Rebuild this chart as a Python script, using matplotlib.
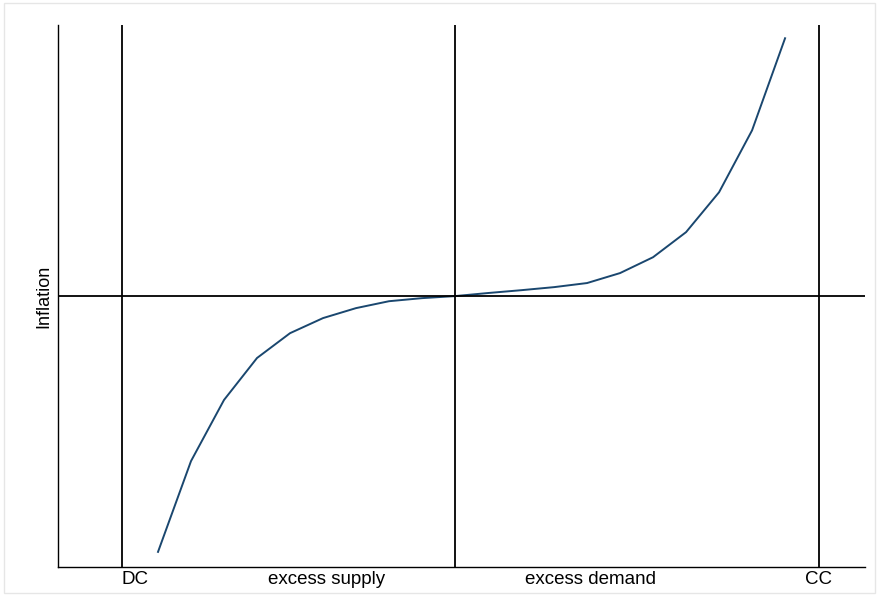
import matplotlib.pyplot as plt
from matplotlib.patches import Rectangle

# --- DATA ---
excess = [-9, -8, -7, -6, -5, -4, -3, -2, -1, 0, 1, 2, 3, 4, 5, 6, 7, 8, 9, 10]
inflation = [-10.0, -6.45, -4.06, -2.42, -1.45, -0.86, -0.47, -0.2, -0.08, 0.0,
             0.12, 0.23, 0.35, 0.51, 0.9, 1.52, 2.5, 4.06, 6.48, 10.08]
dc_pos, cc_pos = -10.09, 11.03
x_labels = [(-9.7, "DC"), (-3.9, "excess supply"), (4.1, "excess demand"), (11.0, "CC")]

# --- PLOT ---
fig = plt.figure(figsize=(8.79, 5.96), dpi=100)
fig.patches.append(Rectangle((0.004, 0.005), 0.992, 0.99, transform=fig.transFigure,
                             fill=False, edgecolor="#e6e6e6", lw=1))
ax = fig.add_axes([0.066, 0.0487, 0.918, 0.909])
ax.plot(excess, inflation, color="#1a476f", lw=1.4)
for xv in (dc_pos, 0, cc_pos):
    ax.axvline(xv, color="black", lw=1.3)
ax.axhline(0, color="black", lw=1.3)

ax.set_xlim(-12.03, 12.42)
ax.set_ylim(-10.59, 10.59)
ax.set_xticks([])
ax.set_yticks([])
for s in ("top", "right"):
    ax.spines[s].set_visible(False)
ax.spines["left"].set_linewidth(1.0)
ax.spines["bottom"].set_linewidth(1.0)
ax.set_ylabel("Inflation", fontsize=13, family="Liberation Sans", labelpad=4)

for xv, lab in x_labels:
    ax.annotate(lab, (xv, -10.59), xytext=(0, -3), textcoords="offset points",
                ha="center", va="top", fontsize=13.5, family="Liberation Sans",
                annotation_clip=False)

plt.savefig("out.png", dpi=100)
